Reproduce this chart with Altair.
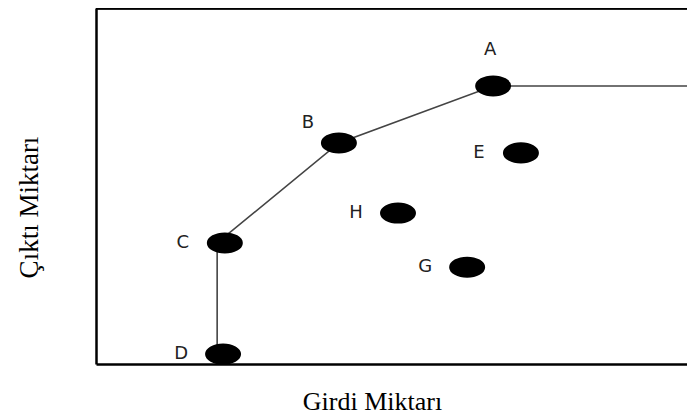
import altair as alt
import pandas as pd

# Decision-making units (points), arbitrary units 0-100
units = ["A", "B", "C", "D", "E", "H", "G"]
girdi = [67.2, 41.1, 21.8, 21.5, 71.9, 51.1, 62.8]
cikti = [78.1, 62.1, 34.0, 2.8, 59.3, 42.4, 27.2]

# Efficient frontier (piecewise line)
frontier_x = [20.5, 20.5, 41.1, 67.2, 100.0]
frontier_y = [0.0, 34.0, 62.1, 78.1, 78.1]

pts = pd.DataFrame({"unit": units, "girdi": girdi, "cikti": cikti})
front = pd.DataFrame({"girdi": frontier_x, "cikti": frontier_y, "order": list(range(len(frontier_x)))})

W, H = 591, 356

xscale = alt.Scale(domain=[0, 100], nice=False, zero=False)
yscale = alt.Scale(domain=[0, 100], nice=False, zero=False)

xaxis = alt.Axis(title="Girdi Miktarı", ticks=False, labels=False, grid=False,
                 domain=True, domainColor="#000", domainWidth=2.5,
                 titleFont="Liberation Serif", titleFontSize=26, titleFontWeight="normal",
                 titleColor="#000", titleX=276, titleY=45, titleAlign="center",
                 titleBaseline="alphabetic")
yaxis = alt.Axis(title="Çıktı Miktarı", ticks=False, labels=False, grid=False,
                 domain=True, domainColor="#000", domainWidth=2.5,
                 titleFont="Liberation Serif", titleFontSize=27, titleFontWeight="normal",
                 titleColor="#000", titleX=-59, titleY=199, titleAlign="center",
                 titleBaseline="alphabetic")

line = alt.Chart(front).mark_line(color="#444", strokeWidth=1.6).encode(
    x=alt.X("girdi:Q", scale=xscale, axis=xaxis),
    y=alt.Y("cikti:Q", scale=yscale, axis=yaxis),
    order="order:Q",
)

ellipse = "M-1,0A1,0.56,0,1,0,1,0A1,0.56,0,1,0,-1,0Z"
dots = alt.Chart(pts).mark_point(shape=ellipse, size=1156, filled=True,
                                 fill="#000", stroke="#000", opacity=1).encode(
    x=alt.X("girdi:Q", scale=xscale),
    y=alt.Y("cikti:Q", scale=yscale),
)

label_style = dict(font="DejaVu Sans", fontSize=18, color="#222",
                   align="center", baseline="middle")

lab_left = alt.Chart(pts).transform_filter(
    alt.FieldOneOfPredicate(field="unit", oneOf=["C", "D", "E", "H", "G"])
).mark_text(dx=-42, dy=0, **label_style).encode(
    x=alt.X("girdi:Q", scale=xscale),
    y=alt.Y("cikti:Q", scale=yscale),
    text="unit:N",
)
lab_b = alt.Chart(pts).transform_filter(alt.datum.unit == "B").mark_text(
    dx=-31, dy=-20, **label_style).encode(
    x=alt.X("girdi:Q", scale=xscale),
    y=alt.Y("cikti:Q", scale=yscale),
    text="unit:N",
)
lab_a = alt.Chart(pts).transform_filter(alt.datum.unit == "A").mark_text(
    dx=-3, dy=-36, **label_style).encode(
    x=alt.X("girdi:Q", scale=xscale),
    y=alt.Y("cikti:Q", scale=yscale),
    text="unit:N",
)

top = alt.Chart(pts).mark_rule(color="#000", strokeWidth=2.5).encode(
    x=alt.value(0), x2=alt.value(W), y=alt.value(0)
)

chart = alt.layer(line, dots, lab_left, lab_b, lab_a, top).properties(
    width=W, height=H,
    autosize=alt.AutoSizeParams(type="none"),
    padding={"left": 88, "top": 0, "right": 0, "bottom": 54},
    background="#ffffff",
).configure_view(stroke=None)

chart.save("out.html", embed_options={"renderer": "svg", "actions": False})
